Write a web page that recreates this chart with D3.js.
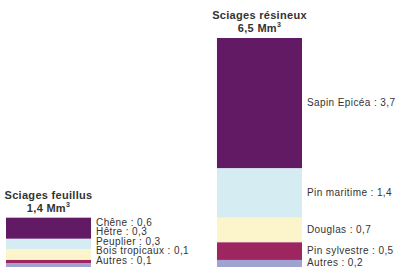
<!DOCTYPE html>
<html>
<head>
<meta charset="utf-8">
<script src="https://cdn.jsdelivr.net/npm/d3@7"></script>
<style>
  body { margin: 0; background: #fff; }
  text { font-family: "Liberation Sans", Arial, sans-serif; fill: #333; }
</style>
</head>
<body>
<div id="chart"></div>
<script>
const WIDTH = 399;
const HEIGHT = 268;

// données
const groups = ['Sciages feuillus', 'Sciages résineux'];
const totals = ['1,4', '6,5'];
const feuillusNames = ['Chêne', 'Hêtre', 'Peuplier', 'Bois tropicaux', 'Autres'];
const feuillusValues = [0.6, 0.3, 0.3, 0.1, 0.1];
const resineuxNames = ['Sapin Epicéa', 'Pin maritime', 'Douglas', 'Pin sylvestre', 'Autres'];
const resineuxValues = [3.7, 1.4, 0.7, 0.5, 0.2];

const colors = ['#611a63', '#d5ecf3', '#fcf5cc', '#9e2660', '#a0a2d2'];

const svg = d3.select('#chart').append('svg').attr('width', WIDTH).attr('height', HEIGHT);

const x = d3.scaleBand()
  .domain(groups)
  .range([6, 302])
  .paddingInner(0.597)
  .paddingOuter(0);

const y = d3.scaleLinear()
  .domain([0, 6.5])
  .range([267, 38]);

const fmt = v => String(v).replace('.', ',');

// empilement : le premier élément en haut
function stackIt(names, values) {
  const total = d3.sum(values);
  let acc = 0;
  return names.map((n, i) => {
    const d = { name: n, value: values[i], y1: total - acc, y0: total - acc - values[i], color: colors[i] };
    acc += values[i];
    return d;
  });
}

const series = [stackIt(feuillusNames, feuillusValues), stackIt(resineuxNames, resineuxValues)];

series.forEach((segs, gi) => {
  const g = svg.append('g');
  const bx = x(groups[gi]);
  const total = d3.sum(segs, d => d.value);

  g.selectAll('rect')
    .data(segs)
    .enter()
    .append('rect')
    .attr('x', bx)
    .attr('width', x.bandwidth())
    .attr('y', d => y(d.y1))
    .attr('height', d => y(d.y0) - y(d.y1))
    .attr('fill', d => d.color);

  // titre
  const cx = bx + x.bandwidth() / 2;
  const top = y(total);
  g.append('text')
    .attr('x', cx)
    .attr('y', top - 19)
    .attr('text-anchor', 'middle')
    .attr('font-size', 11)
    .attr('font-weight', 'bold')
    .attr('letter-spacing', 0.3)
    .text(groups[gi]);
  const t2 = g.append('text')
    .attr('x', cx)
    .attr('y', top - 6)
    .attr('text-anchor', 'middle')
    .attr('font-size', 11)
    .attr('font-weight', 'bold')
    .attr('letter-spacing', 0.3);
  t2.append('tspan').text(totals[gi] + ' Mm');
  t2.append('tspan').attr('dy', -5).attr('font-size', 7).text('3');

  // étiquettes
  const lx = bx + x.bandwidth() + 5;
  g.selectAll('text.lbl')
    .data(segs)
    .enter()
    .append('text')
    .attr('class', 'lbl')
    .attr('x', lx)
    .attr('y', (d, i) => gi === 0 ? top + 8 + i * 9.5 : (y(d.y0) + y(d.y1)) / 2 + 3)
    .attr('font-size', 10)
    .attr('letter-spacing', 0.4)
    .text(d => d.name + ' : ' + fmt(d.value));
});
</script>
</body>
</html>
